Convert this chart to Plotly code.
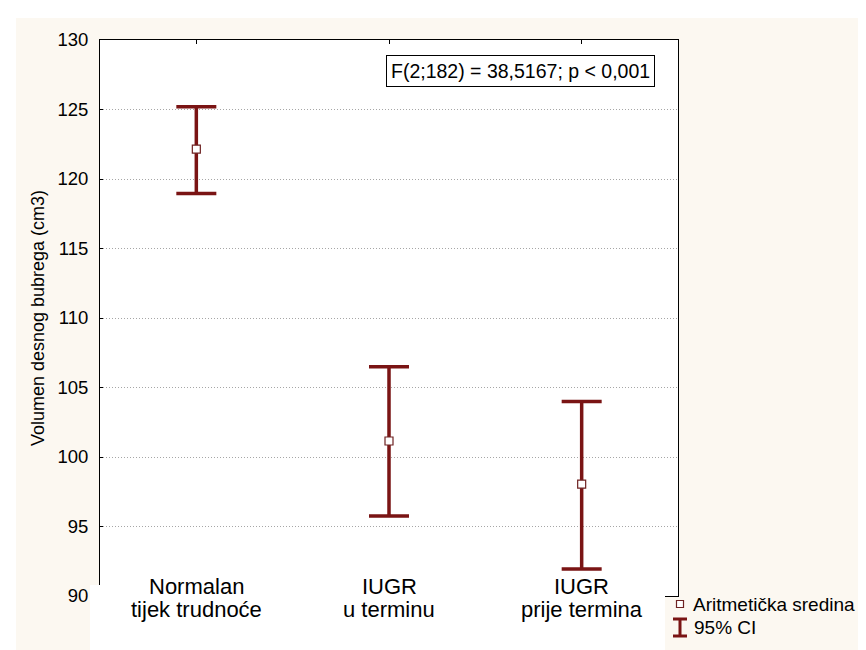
import plotly.graph_objects as go

# ---- data ----
categories = ["Normalan<br>tijek trudnoće", "IUGR<br>u terminu", "IUGR<br>prije termina"]
means = [122.15, 101.15, 98.05]
ci_upper = [125.2, 106.5, 104.0]
ci_lower = [118.95, 95.75, 91.95]
y_ticks = [90, 95, 100, 105, 110, 115, 120, 125, 130]
stat_text = "F(2;182) = 38,5167; p &lt; 0,001"
y_title = "Volumen desnog bubrega (cm3)"
legend_labels = ["Aritmetička sredina", "95% CI"]

err_plus = [u - m for u, m in zip(ci_upper, means)]
err_minus = [m - l for m, l in zip(means, ci_lower)]
x_pos = list(range(len(categories)))

DARK_RED = "#7a1414"
BEIGE = "#fcf8f1"
FONT = "Liberation Sans, Arial, sans-serif"

W, H = 866, 650
ML, MR, MT, MB = 92, 196, 32, 62
PW = W - ML - MR
PH = H - MT - MB


def px(xp):
    return (xp - ML) / PW


def py(yp):
    return (H - MB - yp) / PH


fig = go.Figure()
fig.add_trace(go.Scatter(
    x=x_pos, y=means, mode="markers",
    marker=dict(symbol="square", size=8, color="white",
                line=dict(color="#6e2222", width=1.2)),
    error_y=dict(type="data", symmetric=False, array=err_plus, arrayminus=err_minus,
                 color=DARK_RED, thickness=3.5, width=20),
    showlegend=False, hoverinfo="skip",
))

shapes = []
# white margins (top, left)
shapes.append(dict(type="rect", xref="paper", yref="paper", x0=-0.3, x1=1.5,
                   y0=py(10), y1=1.2, fillcolor="white", line_width=0, layer="below"))
shapes.append(dict(type="rect", xref="paper", yref="paper", x0=-0.3, x1=px(8),
                   y0=-0.3, y1=1.2, fillcolor="white", line_width=0, layer="below"))
# white label box pasted over the bottom of the chart
shapes.append(dict(type="rect", xref="paper", yref="paper", x0=px(82), x1=px(657),
                   y0=-0.3, y1=py(577), fillcolor="white", line_width=0, layer="above"))
# beige legend block
shapes.append(dict(type="rect", xref="paper", yref="paper", x0=px(657), x1=1.5,
                   y0=-0.3, y1=py(589), fillcolor=BEIGE, line_width=0, layer="above"))

# legend symbols
sx = 672
shapes.append(dict(type="rect", xref="paper", yref="paper",
                   x0=px(sx - 3.5), x1=px(sx + 3.5), y0=py(599.5), y1=py(592.5),
                   fillcolor="white", line=dict(color="#6e2222", width=1.2)))
shapes.append(dict(type="line", xref="paper", yref="paper",
                   x0=px(sx), x1=px(sx), y0=py(611), y1=py(628),
                   line=dict(color=DARK_RED, width=3)))
for yy in (611, 628):
    shapes.append(dict(type="line", xref="paper", yref="paper",
                       x0=px(sx - 7), x1=px(sx + 7), y0=py(yy), y1=py(yy),
                       line=dict(color=DARK_RED, width=3)))

annotations = [
    dict(text=stat_text, xref="paper", yref="paper", x=px(512), y=py(63),
         xanchor="center", yanchor="middle", showarrow=False,
         font=dict(family=FONT, size=19.5, color="black"),
         bgcolor="white", bordercolor="black", borderwidth=1, borderpad=4),
    dict(text=legend_labels[0], xref="paper", yref="paper", x=px(683), y=py(596),
         xanchor="left", yanchor="middle", showarrow=False,
         font=dict(family=FONT, size=19, color="black")),
    dict(text=legend_labels[1], xref="paper", yref="paper", x=px(684), y=py(619),
         xanchor="left", yanchor="middle", showarrow=False,
         font=dict(family=FONT, size=19, color="black")),
]
# category labels (two lines each), placed at the category positions of the x axis
for xi, cat in zip(x_pos, categories):
    for li, line in enumerate(cat.split("<br>")):
        annotations.append(dict(
            text=line, xref="x", yref="paper", x=xi, y=py(578 + 23 * li),
            xanchor="center", yanchor="middle", showarrow=False,
            font=dict(family=FONT, size=22, color="black")))

fig.update_layout(
    width=W, height=H,
    margin=dict(l=ML, r=MR, t=MT, b=MB, pad=0),
    paper_bgcolor=BEIGE, plot_bgcolor="white",
    font=dict(family=FONT, color="black"),
    shapes=shapes, annotations=annotations,
    showlegend=False,
)
fig.update_xaxes(
    range=[-0.5, 2.5], tickvals=x_pos, ticktext=["", "", ""],
    showgrid=False, zeroline=False,
    showline=True, linecolor="black", linewidth=1, mirror="ticks",
    ticks="inside", ticklen=4, tickcolor="black",
)
fig.update_yaxes(
    range=[90, 130], tickvals=y_ticks,
    showgrid=True, gridcolor="#a6a6a6", griddash="1px,2px", gridwidth=1,
    zeroline=False,
    showline=True, linecolor="black", linewidth=1, mirror=True,
    ticks="inside", ticklen=3, tickcolor="black",
    tickfont=dict(family=FONT, size=18.5, color="black"),
    ticklabelstandoff=7,
    title=dict(text=y_title, font=dict(family=FONT, size=18, color="black"), standoff=8),
)

fig.write_html("out.html")
